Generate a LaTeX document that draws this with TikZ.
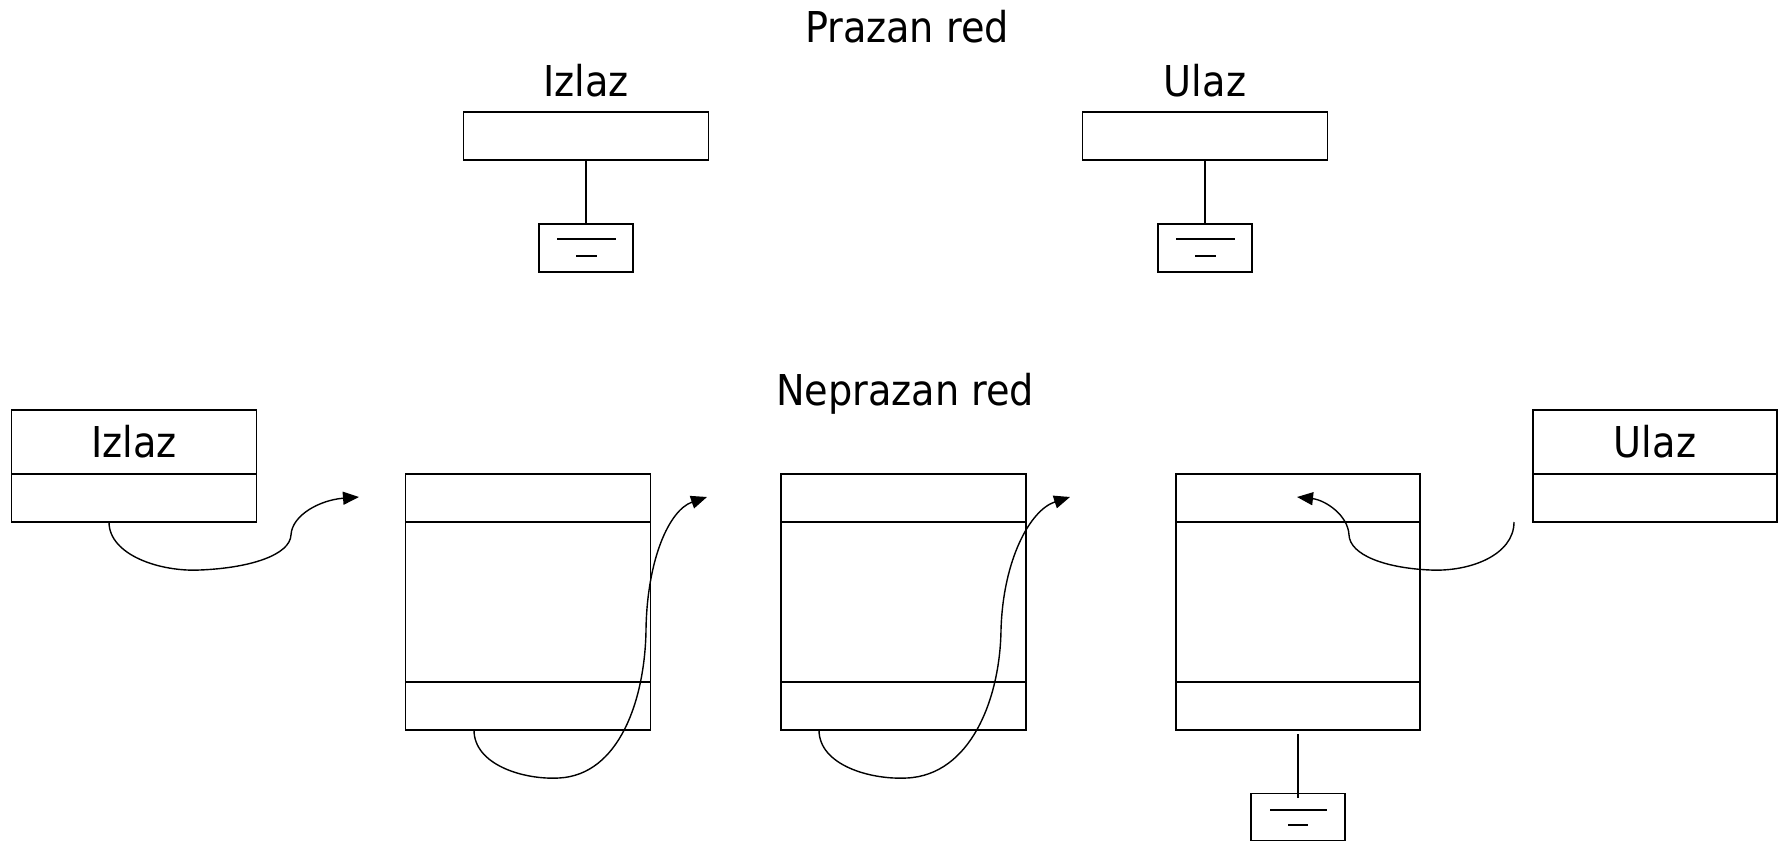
\documentclass[tikz,border=0pt]{standalone}
\usepackage{fontspec}
\setmainfont{DejaVu Sans Condensed}
\usetikzlibrary{arrows.meta,calc}

\tikzset{
  cell/.style={draw, line width=1.8pt, inner sep=0pt, outer sep=0pt, minimum width=#1},
  cell/.default=245pt,
  title/.style={font=\fontsize{42.5}{50}\selectfont, inner sep=0pt, anchor=base},
  boxtext/.style={font=\fontsize{42.5}{50}\selectfont},
  gndbox/.style={draw, line width=1.8pt, inner sep=0pt, outer sep=0pt, minimum width=94pt, minimum height=48pt},
  gndline/.style={line width=1.8pt},
  wire/.style={line width=1.8pt},
  link/.style={line width=1.4pt, -{Triangle[length=16pt,width=13pt]}}
}

\begin{document}
\begin{tikzpicture}[x=1pt, y=-1pt]
\useasboundingbox (0,0) rectangle (1781,842);

% ---------- empty queue ----------
\node[title] (tEmpty) at (907,43) {Prazan red};
\node[title] (tOut) at (586,97) {Izlaz};
\node[title] (tIn) at (1205,97) {Ulaz};

\node[cell, minimum height=48pt] (outE) at (586,136) {};
\node[cell, minimum height=48pt] (inE) at (1205,136) {};

\node[gndbox] (gOut) at (586,248) {};
\node[gndbox] (gIn) at (1205,248) {};

\draw[wire] (outE.south) -- (gOut.north);
\draw[wire] (inE.south) -- (gIn.north);

% ground symbol strokes
\foreach \g in {gOut,gIn}{
  \draw[gndline] ($(\g.center)+(-29,-9)$) -- ($(\g.center)+(30,-9)$);
  \draw[gndline] ($(\g.center)+(-10,8)$) -- ($(\g.center)+(11,8)$);
}

% ---------- non-empty queue ----------
\node[title] (tFull) at (905,406) {Neprazan red};

% output pointer
\node[cell, minimum height=64pt, boxtext] (outH) at (134,442) {Izlaz};
\node[cell, minimum height=48pt, anchor=north] (outP) at (outH.south) {};

% input pointer
\node[cell=244pt, minimum height=64pt, boxtext] (inH) at (1655,442) {Ulaz};
\node[cell=244pt, minimum height=48pt, anchor=north] (inP) at (inH.south) {};

% queue elements: link field, data, next field
\node[cell, minimum height=48pt] (e1a) at (528,498) {};
\node[cell, minimum height=160pt, anchor=north] (e1b) at (e1a.south) {};
\node[cell, minimum height=48pt, anchor=north] (e1c) at (e1b.south) {};

\node[cell, minimum height=48pt] (e2a) at (903.5,498) {};
\node[cell, minimum height=160pt, anchor=north] (e2b) at (e2a.south) {};
\node[cell, minimum height=48pt, anchor=north] (e2c) at (e2b.south) {};

\node[cell=244pt, minimum height=48pt] (e3a) at (1298,498) {};
\node[cell=244pt, minimum height=160pt, anchor=north] (e3b) at (e3a.south) {};
\node[cell=244pt, minimum height=48pt, anchor=north] (e3c) at (e3b.south) {};

% terminator under the last element
\node[gndbox, minimum height=47pt] (gEnd) at (1298,817) {};
\draw[wire] ($(e3c.south)+(0,4)$) -- ($(gEnd.north)+(0,4)$);
\draw[gndline] ($(gEnd.center)+(-28,-7)$) -- ($(gEnd.center)+(29,-7)$);
\draw[gndline] ($(gEnd.center)+(-10,8)$) -- ($(gEnd.center)+(10,8)$);

% pointer arrows
\coordinate (s1) at (109,522);
\coordinate (p1) at (359,497);
\coordinate (s2) at (474,730);
\coordinate (p2) at (707,497);
\coordinate (s3) at (819,730);
\coordinate (p3) at (1070,497);
\coordinate (s4) at (1514,522);
\coordinate (p4) at (1297,497);

\draw[link] (s1) .. controls (109,555) and (160,572) .. (200,570)
               .. controls (250,568) and (290,555) .. (291,535)
               .. controls (292,515) and (320,500) .. (p1);
\draw[link] (s2) .. controls (474,765) and (524,780) .. (559,778)
               .. controls (619,775) and (645,700) .. (646,630)
               .. controls (647,560) and (669,510) .. (p2);
\draw[link] (s3) .. controls (819,765) and (870,780) .. (907,778)
               .. controls (970,775) and (1000,700) .. (1001,630)
               .. controls (1003,560) and (1030,510) .. (p3);
\draw[link] (s4) .. controls (1514,555) and (1470,572) .. (1430,570)
               .. controls (1385,568) and (1350,555) .. (1349,535)
               .. controls (1348,515) and (1325,500) .. (p4);
\end{tikzpicture}
\end{document}
